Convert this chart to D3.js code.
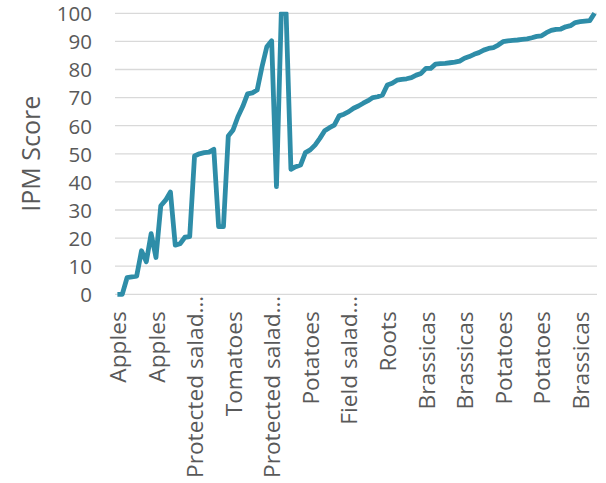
<!DOCTYPE html>
<html>
<head>
<meta charset="utf-8">
<script src="https://cdn.jsdelivr.net/npm/d3@7"></script>
<style>
  html, body { margin: 0; padding: 0; background: #ffffff; }
  svg { display: block; }
  text { font-family: "Open Sans", sans-serif; fill: #595959; }
</style>
</head>
<body>
<div id="chart"></div>
<script>
// ---- Data ----
const tickLabels = ["Apples", "Apples", "Protected salad…", "Tomatoes", "Protected salad…",
  "Potatoes", "Field salad…", "Roots", "Brassicas", "Brassicas", "Potatoes", "Potatoes", "Brassicas"];
const labelStep = 8;
const scores = [
  0, 0, 5.9, 6.2, 6.5, 15.5, 11.6, 21.6, 13.1, 31.5,
  33.5, 36.4, 17.5, 18.0, 20.3, 20.5, 49.2, 50.0, 50.4, 50.6,
  51.6, 24.1, 24.1, 56.3, 58.5, 63.2, 66.8, 71.3, 71.7, 72.7,
  81.0, 88.1, 90.2, 38.3, 100, 100, 44.5, 45.4, 46.0, 50.4,
  51.4, 53.1, 55.5, 58.2, 59.3, 60.2, 63.5, 64.1, 65.0, 66.2,
  67.0, 68.0, 68.9, 70.0, 70.3, 70.9, 74.5, 75.1, 76.2, 76.5,
  76.7, 77.1, 78.0, 78.6, 80.4, 80.4, 81.9, 82.1, 82.2, 82.4,
  82.6, 83.0, 84.0, 84.6, 85.4, 86.0, 86.9, 87.5, 87.8, 88.7,
  89.9, 90.2, 90.4, 90.5, 90.7, 90.9, 91.3, 91.8, 92.0, 93.1,
  93.9, 94.3, 94.4, 95.2, 95.6, 96.7, 97.0, 97.2, 97.4, 100
];
const yTicks = [0, 10, 20, 30, 40, 50, 60, 70, 80, 90, 100];
const yTitle = "IPM Score";

// ---- Layout ----
const W = 606, H = 483;
const plot = { left: 115, right: 597, top: 13.3, bottom: 294.3 };
const lineColor = "#2E8DA8";

const svg = d3.select("#chart").append("svg")
  .attr("width", W).attr("height", H);

svg.append("rect").attr("width", W).attr("height", H).attr("fill", "#ffffff");

const x = d3.scaleBand().domain(d3.range(scores.length)).range([plot.left, plot.right]).padding(0);
const y = d3.scaleLinear().domain([0, 100]).range([plot.bottom, plot.top]);
const cx = i => x(i) + x.bandwidth() / 2;

// gridlines
svg.append("g").selectAll("line").data(yTicks).join("line")
  .attr("x1", plot.left).attr("x2", plot.right)
  .attr("y1", d => y(d)).attr("y2", d => y(d))
  .attr("stroke", "#d9d9d9").attr("stroke-width", 1.3);

// y axis labels
const yAxis = d3.axisLeft(y).tickValues(yTicks).tickSize(0).tickPadding(0);
const gy = svg.append("g").attr("transform", `translate(92,0)`).call(yAxis);
gy.select(".domain").remove();
gy.selectAll("text")
  .attr("x", 0)
  .attr("dy", "0.36em")
  .style("font-family", '"Open Sans", sans-serif')
  .style("font-size", "20.5px")
  .attr("fill", "#595959");

// y title
svg.append("text")
  .attr("transform", `translate(40,${(plot.top + plot.bottom) / 2}) rotate(-90)`)
  .attr("text-anchor", "middle")
  .style("font-size", "25px")
  .text(yTitle);

// x axis labels
const labelIdx = tickLabels.map((_, k) => k * labelStep);
const xAxis = d3.axisBottom(x).tickValues(labelIdx)
  .tickFormat(d => tickLabels[d / labelStep]).tickSize(0);
const gx = svg.append("g").attr("transform", `translate(0,${plot.bottom})`).call(xAxis);
gx.select(".domain").remove();
gx.selectAll(".tick text")
  .style("font-family", '"Open Sans", sans-serif')
  .style("font-size", "22.7px")
  .attr("fill", "#595959")
  .attr("text-anchor", "end")
  .attr("x", 0).attr("y", 0)
  .attr("dy", "0.38em")
  .attr("transform", function (d) {
    const t = tickLabels[d / labelStep];
    const yEnd = t.endsWith("…") ? 1.5 : 17;
    return `translate(0,${yEnd}) rotate(-90)`;
  });

// clip
svg.append("clipPath").attr("id", "clip").append("rect")
  .attr("x", plot.left).attr("y", plot.top - 1.6)
  .attr("width", plot.right - plot.left).attr("height", plot.bottom - plot.top + 10);

// line
const line = d3.line().x((d, i) => cx(i)).y(d => y(d));
svg.append("path")
  .datum(scores)
  .attr("clip-path", "url(#clip)")
  .attr("d", line)
  .attr("fill", "none")
  .attr("stroke", lineColor)
  .attr("stroke-width", 4.8)
  .attr("stroke-linejoin", "round")
  .attr("stroke-linecap", "butt");
</script>
</body>
</html>
